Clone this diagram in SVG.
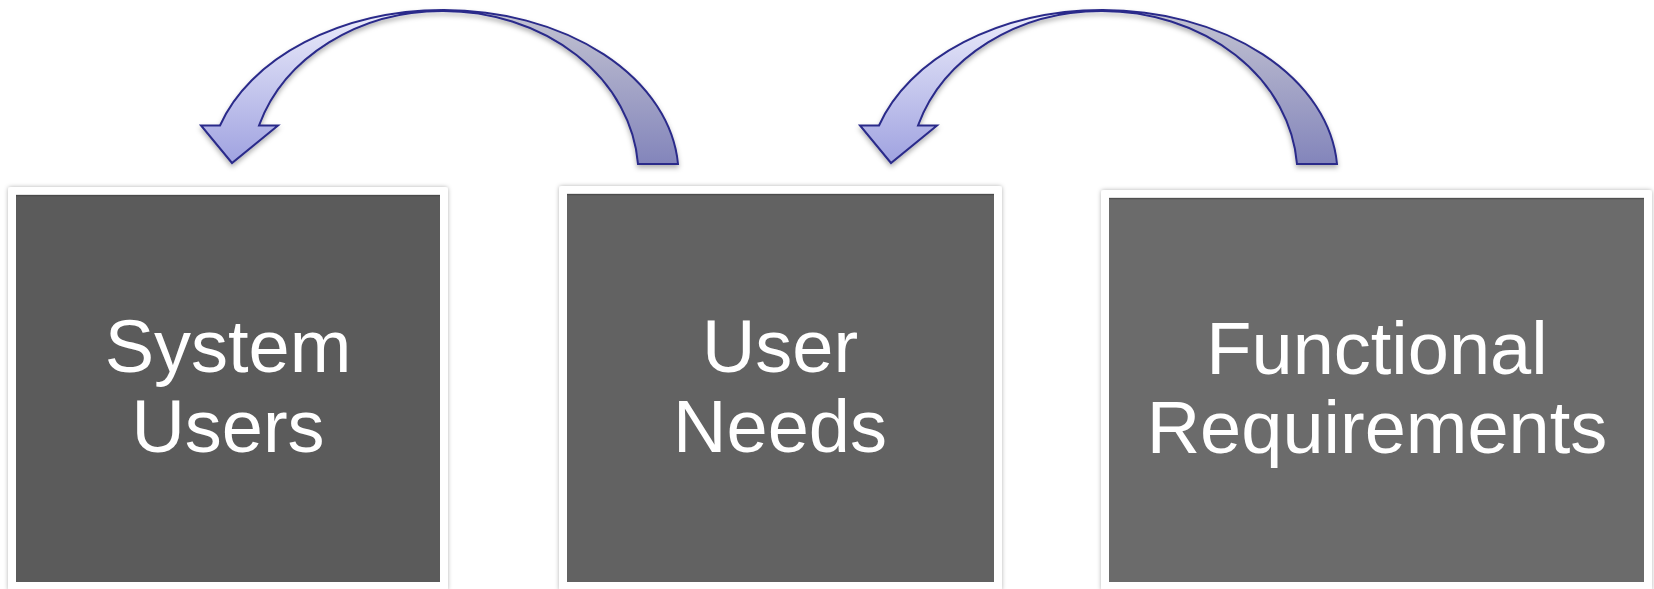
<svg xmlns="http://www.w3.org/2000/svg" width="1654" height="589" viewBox="0 0 1654 589">
  <style>
    .frame { fill: #ffffff; filter: url(#frameShadow); }
    .label { fill: #ffffff; font-family: "Liberation Sans", Arial, sans-serif; font-size: 74px; text-anchor: middle; }
    .arrow { stroke: #2a2a8a; stroke-width: 2; stroke-linejoin: miter; }
    .front { fill: url(#frontGrad); }
    .back { fill: url(#backGrad); }
    .topline { stroke: #3f3f3f; stroke-width: 1.5; opacity: 0.6; }
  </style>
  <defs>
    <filter id="frameShadow" x="-5%" y="-5%" width="110%" height="110%">
      <feDropShadow dx="0" dy="0" stdDeviation="2.2" flood-color="#000000" flood-opacity="0.3"/>
    </filter>
    <filter id="arrowShadow" x="-10%" y="-10%" width="120%" height="130%">
      <feDropShadow dx="0" dy="3" stdDeviation="2.5" flood-color="#000000" flood-opacity="0.3"/>
    </filter>
    <linearGradient id="frontGrad" x1="0" y1="10" x2="0" y2="164" gradientUnits="userSpaceOnUse">
      <stop offset="0" stop-color="#ecedfb"/>
      <stop offset="1" stop-color="#9fa2e0"/>
    </linearGradient>
    <linearGradient id="backGrad" x1="0" y1="10" x2="0" y2="164" gradientUnits="userSpaceOnUse">
      <stop offset="0" stop-color="#c4c4d2"/>
      <stop offset="1" stop-color="#8385bb"/>
    </linearGradient>
    <g id="curvedArrow">
      <path class="arrow back" d="M0,10 A235,165 0 0 1 235,164 L195,164 A195,164 0 0 0 0,11 Z"/>
      <path class="arrow front" d="M0,10 A235,165 0 0 0 -223,125.5 L-242,125.5 L-211,163 L-165,125.5 L-184,125.5 A192,164 0 0 1 0,11 Z"/>
    </g>
  </defs>

  <rect width="1654" height="589" fill="#ffffff"/>

  <g id="node-system-users">
    <rect class="frame" x="8" y="187" width="440" height="404" rx="3"/>
    <rect x="16" y="195" width="424" height="387" fill="#5b5b5b"/>
    <line class="topline" x1="16" y1="195.5" x2="440" y2="195.5"/>
    <text class="label" x="228" y="372">System</text>
    <text class="label" x="228" y="452">Users</text>
  </g>

  <g id="node-user-needs">
    <rect class="frame" x="559" y="186" width="443" height="405" rx="3"/>
    <rect x="567" y="194" width="427" height="388" fill="#626262"/>
    <line class="topline" x1="567" y1="194.5" x2="994" y2="194.5"/>
    <text class="label" x="780" y="372">User</text>
    <text class="label" x="780" y="452">Needs</text>
  </g>

  <g id="node-functional-requirements">
    <rect class="frame" x="1101" y="190" width="551" height="401" rx="3"/>
    <rect x="1109" y="198" width="535" height="384" fill="#6b6b6b"/>
    <line class="topline" x1="1109" y1="198.5" x2="1644" y2="198.5"/>
    <text class="label" x="1377" y="374">Functional</text>
    <text class="label" x="1377" y="453">Requirements</text>
  </g>

  <g id="connectors" filter="url(#arrowShadow)">
    <use href="#curvedArrow" transform="translate(443,0)"/>
    <use href="#curvedArrow" transform="translate(1102,0)"/>
  </g>
</svg>
